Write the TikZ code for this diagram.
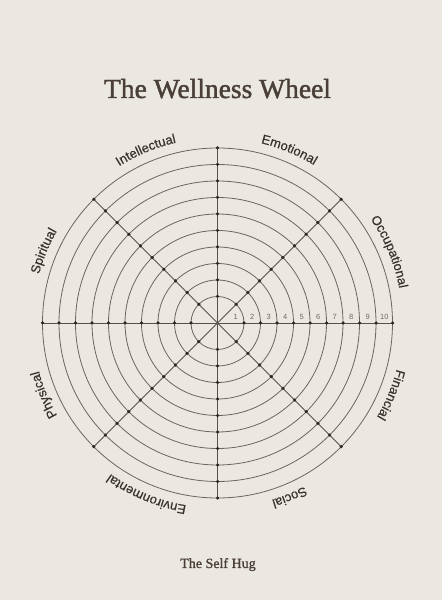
\documentclass[tikz,border=0pt]{standalone}
\usepackage{fontspec}
\setmainfont{Liberation Serif}
\newfontfamily\titlefont{Liberation Serif}[FakeBold=1.6]
\newfontfamily\footfont{Liberation Serif}[FakeBold=1.2]
\newfontfamily\labelfont{Liberation Sans}[FakeBold=0.5]
\newfontfamily\numfont{Liberation Sans}
\usetikzlibrary{decorations.text,calc}
\definecolor{bg}{HTML}{EBE8E2}
\definecolor{ink}{HTML}{4A3F38}
\definecolor{lab}{HTML}{3A322D}
\definecolor{ringc}{HTML}{6B6560}
\definecolor{spokec}{HTML}{57514C}
\definecolor{dotc}{HTML}{2B2623}
\definecolor{numc}{HTML}{6E6964}
\tikzset{
  ring/.style={draw=ringc, line width=0.8pt},
  spoke/.style={draw=spokec, line width=0.85pt},
  wdot/.style={fill=dotc},
  num/.style={font=\numfont\fontsize{7.5}{7.5}\selectfont, text=numc, inner sep=0pt},
  titletext/.style={font=\titlefont\fontsize{27.5}{30}\selectfont, text=ink, inner sep=0pt},
  foot/.style={font=\footfont\fontsize{14}{16}\selectfont, text=ink, inner sep=0pt},
  sector/.style={decorate, decoration={text along path, text align=center,
     text={|\labelfont\fontsize{13}{13}\selectfont\color{lab}|#1}}}
}
\begin{document}
\begin{tikzpicture}[x=1pt,y=1pt]
\fill[bg] (0,0) rectangle (442,600);
\useasboundingbox (0,0) rectangle (442,600);
\coordinate (c) at (217.5,277);
\foreach \k in {1,...,10} \draw[ring] (c) circle[radius={10+16.5*\k}];
\foreach \a in {0,45,...,315} \draw[spoke] (c) -- ++(\a:175);
\foreach \a in {0,45,...,315} \foreach \k in {1,...,10}
  \fill[wdot] (c) ++(\a:{10+16.5*\k}) circle[radius=1.75];
\foreach \k in {1,...,10}
  \node[num] (n\k) at ($(c)+({10+16.5*\k-8.25},6.5)$) {\k};
\foreach \a/\t in {22.5/Occupational,67.5/Emotional,112.5/Intellectual,157.5/Spiritual,
  202.5/Physical,247.5/Environmental,292.5/Social,337.5/Financial}
  \path[sector=\t] (c) ++(\a+40:185) arc[start angle=\a+40, end angle=\a-40, radius=185];
\node[titletext, anchor=base] (title) at (217.5,502) {The Wellness Wheel};
\node[foot, anchor=base] (foot) at (218,32) {The Self Hug};
\end{tikzpicture}
\end{document}
